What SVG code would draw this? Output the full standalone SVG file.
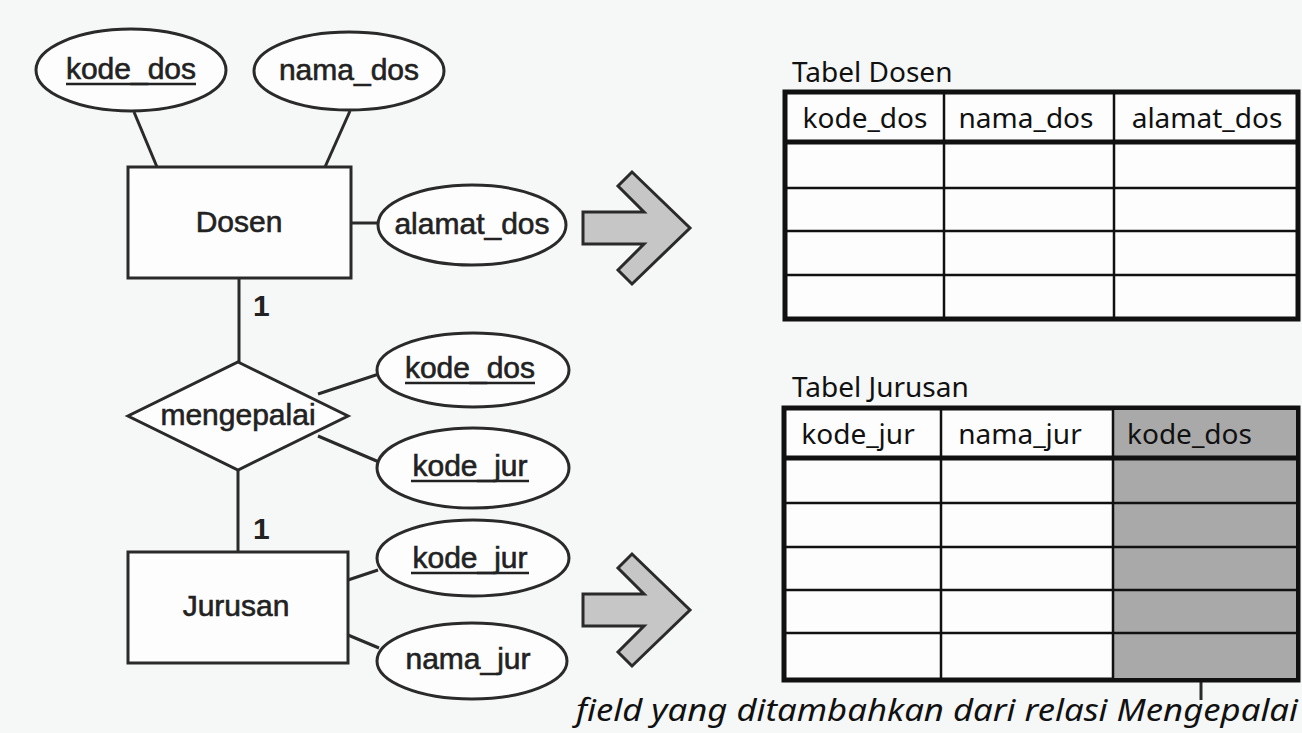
<svg xmlns="http://www.w3.org/2000/svg" width="1302" height="733" viewBox="0 0 1302 733">
<style>
.bg{fill:#f6f7f7}
.ent{fill:#fdfdfd;stroke:#2a2a2a;stroke-width:3}
.att{fill:#fdfdfd;stroke:#2a2a2a;stroke-width:3}
.er{font-family:"Liberation Sans",Arial,sans-serif;font-size:30px;fill:#222;stroke:#222;stroke-width:0.6;text-anchor:middle}
.card{font-family:"Liberation Sans",Arial,sans-serif;font-size:30px;font-weight:bold;fill:#222}
.ul{stroke:#222;stroke-width:2.5}
.con{stroke:#2a2a2a;stroke-width:3;fill:none}
.arrow{fill:#c6c6c6;stroke:#2a2a2a;stroke-width:3;stroke-linejoin:miter}
.tt{font-family:"Noto Sans","Open Sans",sans-serif;font-size:28px;fill:#111}
.th{font-family:"Noto Sans","Open Sans",sans-serif;font-size:28px;fill:#111}
.outer{fill:#fdfdfd;stroke:#111;stroke-width:5}
.thick{stroke:#111;stroke-width:5}
.thin{stroke:#111;stroke-width:2.5}
.shade{fill:#a9a9a9}
.cap{font-family:"Noto Sans","Open Sans",sans-serif;font-style:italic;font-size:30px;fill:#111}
</style>
<rect class="bg" x="0" y="0" width="1302" height="733"/>

<g id="connectors">
  <line class="con" x1="134" y1="112" x2="157" y2="167"/>
  <line class="con" x1="350" y1="111" x2="325" y2="167"/>
  <line class="con" x1="351" y1="223" x2="378" y2="223"/>
  <line class="con" x1="239" y1="278" x2="239" y2="362"/>
  <line class="con" x1="318" y1="394" x2="379" y2="374"/>
  <line class="con" x1="318" y1="436" x2="379" y2="462"/>
  <line class="con" x1="238" y1="470" x2="238" y2="552"/>
  <line class="con" x1="348" y1="580" x2="378" y2="570"/>
  <line class="con" x1="348" y1="635" x2="379" y2="648"/>
  <line class="con" x1="1201" y1="642" x2="1201" y2="700"/>
</g>

<g id="kode_dos_1">
  <ellipse class="att" cx="131" cy="70" rx="95" ry="41"/>
  <text class="er" x="131" y="79">kode_dos</text>
  <line class="ul" x1="66" y1="84" x2="196" y2="84"/>
</g>
<g id="nama_dos">
  <ellipse class="att" cx="349" cy="71" rx="95" ry="39"/>
  <text class="er" x="349" y="80">nama_dos</text>
</g>
<g id="Dosen">
  <rect class="ent" x="128" y="167" width="223" height="111"/>
  <text class="er" x="239" y="232">Dosen</text>
</g>
<g id="alamat_dos">
  <ellipse class="att" cx="472" cy="225" rx="94" ry="40"/>
  <text class="er" x="472" y="234">alamat_dos</text>
</g>
<g id="card_1">
  <text class="card" x="253" y="316">1</text>
</g>
<g id="mengepalai">
  <polygon class="ent" points="238,362 348,416 238,470 128,416"/>
  <text class="er" x="238" y="425">mengepalai</text>
</g>
<g id="kode_dos_2">
  <ellipse class="att" cx="473" cy="370" rx="96" ry="37"/>
  <text class="er" x="470" y="378">kode_dos</text>
  <line class="ul" x1="405" y1="383" x2="535" y2="383"/>
</g>
<g id="kode_jur_1">
  <ellipse class="att" cx="473" cy="468" rx="96" ry="40"/>
  <text class="er" x="470" y="476">kode_jur</text>
  <line class="ul" x1="411" y1="481" x2="529" y2="481"/>
</g>
<g id="card_2">
  <text class="card" x="253" y="539">1</text>
</g>
<g id="Jurusan">
  <rect class="ent" x="128" y="552" width="220" height="111"/>
  <text class="er" x="236" y="616">Jurusan</text>
</g>
<g id="kode_jur_2">
  <ellipse class="att" cx="473" cy="558" rx="96" ry="38"/>
  <text class="er" x="470" y="568">kode_jur</text>
  <line class="ul" x1="411" y1="573" x2="529" y2="573"/>
</g>
<g id="nama_jur">
  <ellipse class="att" cx="472" cy="661" rx="95" ry="38"/>
  <text class="er" x="468" y="669">nama_jur</text>
</g>

<g id="arrow_1">
  <path class="arrow" d="M583,212 L644,212 L618,186 L632,172 L690,228 L632,284 L618,270 L644,244 L583,244 Z"/>
</g>
<g id="arrow_2">
  <path class="arrow" d="M583,594 L644,594 L618,568 L632,554 L690,610 L632,666 L618,652 L644,626 L583,626 Z"/>
</g>

<g id="tabel_dosen">
  <text class="tt" x="792" y="82">Tabel Dosen</text>
  <rect class="outer" x="785" y="92" width="513" height="227"/>
  <line class="thick" x1="785" y1="142" x2="1298" y2="142"/>
  <line class="thin" x1="785" y1="188" x2="1298" y2="188"/>
  <line class="thin" x1="785" y1="231" x2="1298" y2="231"/>
  <line class="thin" x1="785" y1="275" x2="1298" y2="275"/>
  <line class="thin" x1="944" y1="92" x2="944" y2="319"/>
  <line class="thin" x1="1114" y1="92" x2="1114" y2="319"/>
  <text class="th" x="865" y="128" text-anchor="middle">kode_dos</text>
  <text class="th" x="1026" y="128" text-anchor="middle">nama_dos</text>
  <text class="th" x="1207" y="128" text-anchor="middle">alamat_dos</text>
</g>

<g id="tabel_jurusan">
  <text class="tt" x="792" y="397">Tabel Jurusan</text>
  <rect class="outer" x="784" y="408" width="514" height="272"/>
  <rect class="shade" x="1113" y="410" width="183" height="268"/>
  <line class="thick" x1="784" y1="458" x2="1298" y2="458"/>
  <line class="thin" x1="784" y1="503" x2="1298" y2="503"/>
  <line class="thin" x1="784" y1="547" x2="1298" y2="547"/>
  <line class="thin" x1="784" y1="590" x2="1298" y2="590"/>
  <line class="thin" x1="784" y1="633" x2="1298" y2="633"/>
  <line class="thin" x1="941" y1="408" x2="941" y2="680"/>
  <line class="thin" x1="1113" y1="408" x2="1113" y2="680"/>
  <text class="th" x="858" y="444" text-anchor="middle">kode_jur</text>
  <text class="th" x="1020" y="444" text-anchor="middle">nama_jur</text>
  <text class="th" x="1127" y="444">kode_dos</text>
</g>

<g id="caption">
  <text class="cap" x="576" y="721" textLength="722" lengthAdjust="spacingAndGlyphs">field yang ditambahkan dari relasi Mengepalai</text>
</g>
</svg>
